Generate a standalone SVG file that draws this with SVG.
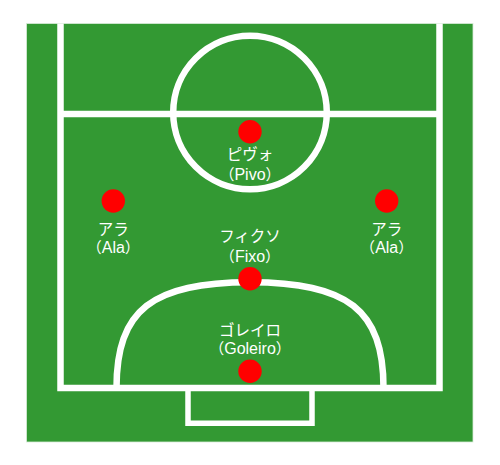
<svg xmlns="http://www.w3.org/2000/svg" width="500" height="465" viewBox="0 0 500 465">
<style>
.line{fill:none;stroke:#ffffff;stroke-width:6.5}
.box{fill:none;stroke:#ffffff;stroke-width:5.5}
.dot{fill:#ff0000}
.jp{font-family:"Noto Sans CJK JP","Liberation Sans",sans-serif;font-size:15.5px;fill:#ffffff;text-anchor:middle}
.lat{font-family:"Liberation Sans","Noto Sans CJK JP",sans-serif;font-size:16px;fill:#ffffff;text-anchor:middle}
.p{font-family:"Noto Sans CJK JP",sans-serif;font-size:15px}
</style>
<rect width="500" height="465" fill="#ffffff"/>
<g id="field">
<rect x="26.5" y="23.5" width="446.5" height="418.5" fill="#339933" stroke="#d9ecd9" stroke-width="0.8"/>
<path class="line" d="M60.5,23.5 V388 H439.5 V23.5"/>
<line class="line" x1="60.5" y1="114" x2="439.5" y2="114"/>
<circle class="line" cx="250" cy="112.5" r="76.8"/>
<path class="line" d="M116.5,388 C116.5,310 152,282.3 250,282.3 C348,282.3 383.5,310 383.5,388"/>
<path class="box" d="M188,388 V423.3 H312 V388"/>
</g>
<g id="pivo">
<circle class="dot" cx="250" cy="131.7" r="11.7"/>
<text class="jp" x="250" y="159.5">ピヴォ</text>
<text class="lat" x="250" y="180.3"><tspan class="p">（</tspan>Pivo<tspan class="p">）</tspan></text>
</g>
<g id="ala-left">
<circle class="dot" cx="113.3" cy="201" r="11.7"/>
<text class="jp" x="113.3" y="234.5">アラ</text>
<text class="lat" x="113.3" y="252.5"><tspan class="p">（</tspan>Ala<tspan class="p">）</tspan></text>
</g>
<g id="ala-right">
<circle class="dot" cx="386.7" cy="201" r="11.7"/>
<text class="jp" x="386.7" y="234.5">アラ</text>
<text class="lat" x="386.7" y="252.5"><tspan class="p">（</tspan>Ala<tspan class="p">）</tspan></text>
</g>
<g id="fixo">
<text class="jp" x="250" y="242">フィクソ</text>
<text class="lat" x="250" y="262"><tspan class="p">（</tspan>Fixo<tspan class="p">）</tspan></text>
<circle class="dot" cx="250" cy="278.7" r="11.7"/>
</g>
<g id="goleiro">
<text class="jp" x="250" y="336">ゴレイロ</text>
<text class="lat" x="250" y="353.5"><tspan class="p">（</tspan>Goleiro<tspan class="p">）</tspan></text>
<circle class="dot" cx="250" cy="371.3" r="11.7"/>
</g>
<g id="connectors"/>
</svg>
